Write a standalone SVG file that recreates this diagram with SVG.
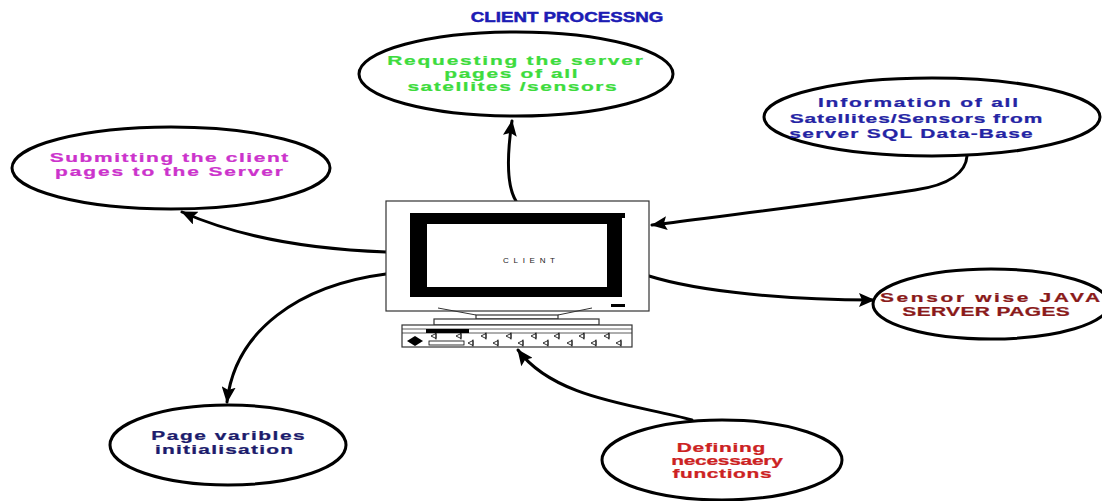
<svg xmlns="http://www.w3.org/2000/svg" width="1102" height="501" viewBox="0 0 1102 501">
  <style>
    .bubble { fill: #ffffff; stroke: #000000; stroke-width: 3; }
    .lbl { font-family: "Liberation Sans", Arial, sans-serif; font-weight: bold; font-size: 13.5px; text-anchor: middle; stroke-width: 0.25; }
    .link { fill: none; stroke: #000000; stroke-width: 3; stroke-linecap: round; }
    .frame { fill: #ffffff; stroke: #333333; stroke-width: 1.2; }
    .key { fill: none; stroke: #000000; stroke-width: 0.8; }
  </style>
  <defs>
    <marker id="arrow" markerUnits="userSpaceOnUse" markerWidth="16" markerHeight="14" viewBox="0 0 16 14" refX="15" refY="7" orient="auto">
      <path d="M0,0 L16,7 L0,14 L3,7 z" fill="#000000"/>
    </marker>
    <path id="k" class="key" d="M0,0 l5,-2.5 v5 z M5,-3.5 v7"/>
  </defs>

  <rect width="1102" height="501" fill="#ffffff"/>

  <!-- heading (wide lettering: horizontally stretched bold face) -->
  <text transform="matrix(1.25,0,0,1,567,0)" x="0" y="22" font-family="Liberation Sans, Arial, sans-serif" font-weight="bold" font-size="15" fill="#1c1cb4" stroke="#1c1cb4" stroke-width="0.5" text-anchor="middle" textLength="154">CLIENT PROCESSNG</text>

  <!-- connectors -->
  <g id="connectors">
    <path class="link" d="M516,201 C506,185 507,155 512,121" marker-end="url(#arrow)"/>
    <path class="link" d="M967,156 C966,172 950,185 915,190 C830,203 730,215 652,225" marker-end="url(#arrow)"/>
    <path class="link" d="M386,252 C330,250 250,242 182,212" marker-end="url(#arrow)"/>
    <path class="link" d="M386,274 C300,285 235,330 227,402" marker-end="url(#arrow)"/>
    <path class="link" d="M649,276 C700,292 790,300 874,300" marker-end="url(#arrow)"/>
    <path class="link" d="M692,420 C640,405 555,400 518,350" marker-end="url(#arrow)"/>
  </g>

  <!-- central client workstation -->
  <g id="client">
    <rect class="frame" x="386" y="201" width="263" height="110"/>
    <rect x="410" y="213" width="212" height="84" fill="#000000"/>
    <rect x="410" y="213" width="215" height="5" fill="#000000"/>
    <rect x="427" y="224" width="180" height="63" fill="#ffffff"/>
    <text x="529" y="263" font-family="Liberation Sans, Arial, sans-serif" font-size="8" fill="#222222" text-anchor="middle" textLength="52">CLIENT</text>
    <rect x="611" y="304" width="14" height="3" fill="#000000"/>
    <!-- stand -->
    <path d="M438,308 L476,315 M592,308 L558,315" stroke="#333333" stroke-width="1" fill="none"/>
    <rect class="frame" x="476" y="315" width="82" height="4"/>
    <rect class="frame" x="434" y="319" width="165" height="6"/>
    <!-- keyboard -->
    <rect class="frame" x="402" y="325" width="230" height="22"/>
    <path d="M402,329 H632 M402,333 H632" stroke="#333333" stroke-width="0.8" fill="none"/>
    <rect x="426" y="329" width="43" height="4" fill="#000000"/>
    <path d="M415,336 L423,341 L415,346 L407,341 z" fill="#000000"/>
    <rect x="429" y="341" width="35" height="4" fill="none" stroke="#000000" stroke-width="0.8"/>
    <use href="#k" x="431" y="336"/>
    <use href="#k" x="456" y="336"/>
    <use href="#k" x="481" y="336"/>
    <use href="#k" x="506" y="336"/>
    <use href="#k" x="531" y="336"/>
    <use href="#k" x="554" y="336"/>
    <use href="#k" x="579" y="336"/>
    <use href="#k" x="604" y="336"/>
    <use href="#k" x="468" y="343"/>
    <use href="#k" x="493" y="343"/>
    <use href="#k" x="518" y="343"/>
    <use href="#k" x="543" y="343"/>
    <use href="#k" x="567" y="343"/>
    <use href="#k" x="591" y="343"/>
    <use href="#k" x="616" y="343"/>
  </g>

  <!-- requesting server pages -->
  <g id="request">
    <ellipse class="bubble" cx="516" cy="74" rx="157" ry="42"/>
    <g class="lbl" fill="#3ddc3d" stroke="#3ddc3d">
      <text transform="matrix(1.55,0,0,1,515,0)" x="0" y="65" textLength="165">Requesting the server</text>
      <text transform="matrix(1.55,0,0,1,511,0)" x="0" y="78" textLength="86">pages of all</text>
      <text transform="matrix(1.55,0,0,1,512,0)" x="0" y="91" textLength="135">satellites /sensors</text>
    </g>
  </g>

  <!-- information from SQL database -->
  <g id="information">
    <ellipse class="bubble" cx="932" cy="117" rx="168" ry="39"/>
    <g class="lbl" fill="#2424a4" stroke="#2424a4">
      <text transform="matrix(1.55,0,0,1,918,0)" x="0" y="107" textLength="129">Information of all</text>
      <text transform="matrix(1.55,0,0,1,916,0)" x="0" y="123" textLength="163">Satellites/Sensors from</text>
      <text transform="matrix(1.55,0,0,1,911,0)" x="0" y="138" textLength="157">server SQL Data-Base</text>
    </g>
  </g>

  <!-- submitting client pages -->
  <g id="submit">
    <ellipse class="bubble" cx="171" cy="168" rx="159" ry="41"/>
    <g class="lbl" fill="#cc33cc" stroke="#cc33cc">
      <text transform="matrix(1.55,0,0,1,169,0)" x="0" y="162" textLength="154">Submitting the client</text>
      <text transform="matrix(1.55,0,0,1,169,0)" x="0" y="176" textLength="147">pages to the Server</text>
    </g>
  </g>

  <!-- page variables -->
  <g id="variables">
    <ellipse class="bubble" cx="228" cy="445" rx="118" ry="40"/>
    <g class="lbl" fill="#1c1c6c" stroke="#1c1c6c">
      <text transform="matrix(1.55,0,0,1,228,0)" x="0" y="440" textLength="99">Page varibles</text>
      <text transform="matrix(1.55,0,0,1,224,0)" x="0" y="454" textLength="89">initialisation</text>
    </g>
  </g>

  <!-- defining functions -->
  <g id="functions">
    <ellipse class="bubble" cx="722" cy="460" rx="120" ry="40"/>
    <g class="lbl" fill="#cc2222" stroke="#cc2222">
      <text transform="matrix(1.55,0,0,1,721,0)" x="0" y="452" textLength="57">Defining</text>
      <text transform="matrix(1.55,0,0,1,727,0)" x="0" y="465" textLength="72">necessaery</text>
      <text transform="matrix(1.55,0,0,1,722,0)" x="0" y="478" textLength="64">functions</text>
    </g>
  </g>

  <!-- java server pages -->
  <g id="jsp">
    <ellipse class="bubble" cx="991" cy="304" rx="118" ry="35"/>
    <g class="lbl" fill="#8a1a1a" stroke="#8a1a1a">
      <text transform="matrix(1.55,0,0,1,990,0)" x="0" y="302" textLength="142">Sensor wise JAVA</text>
      <text transform="matrix(1.55,0,0,1,986,0)" x="0" y="316" textLength="108">SERVER PAGES</text>
    </g>
  </g>
</svg>
